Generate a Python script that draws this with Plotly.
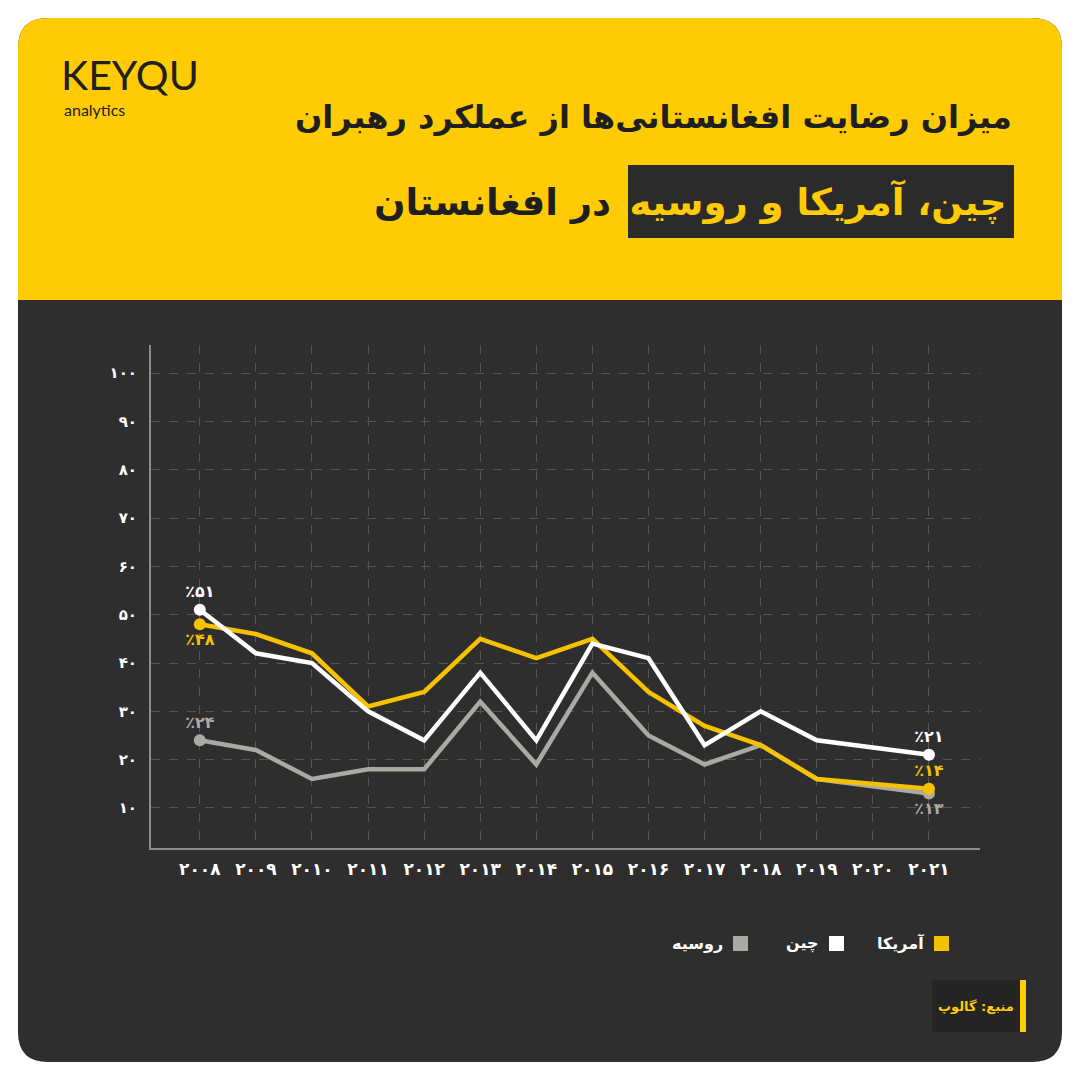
import plotly.graph_objects as go

# ---------------- data ----------------
years = [2008, 2009, 2010, 2011, 2012, 2013, 2014, 2015, 2016, 2017, 2018, 2019, 2020, 2021]
america = [48, 46, 42, 31, 34, 45, 41, 45, 34, 27, 23, 16, None, 14]
china = [51, 42, 40, 30, 24, 38, 24, 44, 41, 23, 30, 24, None, 21]
russia = [24, 22, 16, 18, 18, 32, 19, 38, 25, 19, 23, 16, None, 13]
y_ticks = [10, 20, 30, 40, 50, 60, 70, 80, 90, 100]
series_names = ["آمریکا", "چین", "روسیه"]
title_line1 = "میزان رضایت افغانستانی‌ها از عملکرد رهبران"
title_highlight = "چین، آمریکا و روسیه"
title_rest = "در افغانستان"
source_text = "منبع: گالوپ"

FA = str.maketrans("0123456789", "۰۱۲۳۴۵۶۷۸۹")
def fa(v):
    return str(v).translate(FA)

W = H = 1080
def px(x):
    return x / W
def py(y):
    return 1 - y / H

YELLOW = "#FECB05"
LINE_YELLOW = "#F6C200"
DARK = "#2e2e2e"
GREY = "#a9aaa4"
WHITE = "#ffffff"
FONT = "DejaVu Sans"

fig = go.Figure()

def end_labels(vals, pos_first, pos_last):
    text, pos, size = [], [], []
    valid = [i for i, v in enumerate(vals) if v is not None]
    for i, v in enumerate(vals):
        if i == valid[0]:
            text.append("٪" + fa(v)); pos.append(pos_first); size.append(12)
        elif i == valid[-1]:
            text.append("٪" + fa(v)); pos.append(pos_last); size.append(12)
        else:
            text.append(""); pos.append("top center"); size.append(0)
    return text, pos, size

for name, vals, color, pf, pl in [
    (series_names[2], russia, GREY, "top center", "bottom center"),
    (series_names[0], america, LINE_YELLOW, "bottom center", "top center"),
    (series_names[1], china, WHITE, "top center", "top center"),
]:
    t, p, s = end_labels(vals, pf, pl)
    fig.add_trace(go.Scatter(
        x=years, y=vals, name=name, mode="lines+markers+text",
        connectgaps=True,
        line=dict(color=color, width=4.5),
        marker=dict(color=color, size=s, opacity=1, line=dict(width=0)),
        text=t, textposition=p,
        textfont=dict(color=color, size=16, family=FONT, weight="bold"),
        hoverinfo="skip", showlegend=False,
    ))

# ---------------- background card ----------------
r = 30
x0, x1, y0, y1, ymid = 18, 1062, 18, 1062, 300
def P(x, y):
    return f"{px(x)},{py(y)}"
card = (f"M {P(x0+r,y0)} L {P(x1-r,y0)} Q {P(x1,y0)} {P(x1,y0+r)} L {P(x1,y1-r)} "
        f"Q {P(x1,y1)} {P(x1-r,y1)} L {P(x0+r,y1)} Q {P(x0,y1)} {P(x0,y1-r)} "
        f"L {P(x0,y0+r)} Q {P(x0,y0)} {P(x0+r,y0)} Z")
top = (f"M {P(x0+r,y0)} L {P(x1-r,y0)} Q {P(x1,y0)} {P(x1,y0+r)} L {P(x1,ymid)} "
       f"L {P(x0,ymid)} L {P(x0,y0+r)} Q {P(x0,y0)} {P(x0+r,y0)} Z")
shapes = [
    dict(type="path", xref="paper", yref="paper", path=card, fillcolor=DARK, line=dict(width=0), layer="below"),
    dict(type="path", xref="paper", yref="paper", path=top, fillcolor=YELLOW, line=dict(width=0), layer="below"),
    # title highlight box
    dict(type="rect", xref="paper", yref="paper", x0=px(628), x1=px(1014), y0=py(238), y1=py(165),
         fillcolor="#2b2b2b", line=dict(width=0), layer="below"),
    # source box
    dict(type="rect", xref="paper", yref="paper", x0=px(932), x1=px(1020), y0=py(1032), y1=py(980),
         fillcolor="#242424", line=dict(width=0), layer="below"),
    dict(type="rect", xref="paper", yref="paper", x0=px(1020), x1=px(1026), y0=py(1032), y1=py(980),
         fillcolor=YELLOW, line=dict(width=0), layer="below"),
    # legend squares
    dict(type="rect", xref="paper", yref="paper", x0=px(934), x1=px(949), y0=py(951), y1=py(936),
         fillcolor=LINE_YELLOW, line=dict(width=0)),
    dict(type="rect", xref="paper", yref="paper", x0=px(829), x1=px(844), y0=py(951), y1=py(936),
         fillcolor=WHITE, line=dict(width=0)),
    dict(type="rect", xref="paper", yref="paper", x0=px(733), x1=px(748), y0=py(951), y1=py(936),
         fillcolor=GREY, line=dict(width=0)),
]

line2 = (f"<b><span style='color:{YELLOW}'>{title_highlight}</span>\u2002"
         f"<span style='color:#1f1f1f'>{title_rest}</span></b>")

annotations = [
    # logo
    dict(x=px(59), y=py(75), xref="paper", yref="paper", xanchor="left", yanchor="middle",
         text="KEYQU", showarrow=False, font=dict(family="Lato", size=41, color="#231f20")),
    dict(x=px(62), y=py(109), xref="paper", yref="paper", xanchor="left", yanchor="middle",
         text="analytics", showarrow=False, font=dict(family="Lato", size=16, color="#231f20")),
    # title
    dict(x=px(1014), y=py(117), xref="paper", yref="paper", xanchor="right", yanchor="middle",
         text=f"<b>{title_line1}</b>", showarrow=False,
         font=dict(family=FONT, size=32, color="#1f1f1f")),
    dict(x=px(1008), y=py(202), xref="paper", yref="paper", xanchor="right", yanchor="middle",
         text=line2, showarrow=False,
         font=dict(family=FONT, size=37, color="#1f1f1f")),
    # legend texts
    dict(x=px(926), y=py(943), xref="paper", yref="paper", xanchor="right", yanchor="middle",
         text=f"<b>{series_names[0]}</b>", showarrow=False, font=dict(family=FONT, size=16, color=WHITE)),
    dict(x=px(820), y=py(943), xref="paper", yref="paper", xanchor="right", yanchor="middle",
         text=f"<b>{series_names[1]}</b>", showarrow=False, font=dict(family=FONT, size=16, color=WHITE)),
    dict(x=px(725), y=py(943), xref="paper", yref="paper", xanchor="right", yanchor="middle",
         text=f"<b>{series_names[2]}</b>", showarrow=False, font=dict(family=FONT, size=16, color=WHITE)),
    # source
    dict(x=px(976), y=py(1006), xref="paper", yref="paper", xanchor="center", yanchor="middle",
         text=f"<b>{source_text}</b>", showarrow=False, font=dict(family=FONT, size=13, color=YELLOW)),
]

fig.update_layout(
    width=W, height=H,
    margin=dict(l=0, r=0, t=0, b=0),
    paper_bgcolor="#ffffff", plot_bgcolor="rgba(0,0,0,0)",
    shapes=shapes, annotations=annotations,
    xaxis=dict(
        domain=[px(151), px(980)], range=[2007.13, 2021.91],
        tickmode="array", tickvals=years, ticktext=[fa(y) for y in years],
        tickfont=dict(family=FONT, size=17, color=WHITE, weight="bold"),
        showgrid=True, gridcolor="#555555", griddash="dash", gridwidth=1,
        showline=True, linecolor="#8a8a8a", linewidth=2,
        ticks="outside", ticklen=5, tickcolor="rgba(0,0,0,0)",
        zeroline=False, fixedrange=True,
    ),
    yaxis=dict(
        domain=[py(848), py(345)], range=[1.72, 105.8],
        tickmode="array", tickvals=y_ticks, ticktext=[fa(v) for v in y_ticks],
        tickfont=dict(family=FONT, size=15, color=WHITE, weight="bold"),
        showgrid=True, gridcolor="#555555", griddash="dash", gridwidth=1,
        showline=True, linecolor="#8a8a8a", linewidth=2,
        ticks="outside", ticklen=9, tickcolor="rgba(0,0,0,0)",
        zeroline=False, fixedrange=True,
    ),
    showlegend=False,
)

fig.write_html("out.html", config={"displayModeBar": False},
               post_script="document.body.style.margin='0';")
